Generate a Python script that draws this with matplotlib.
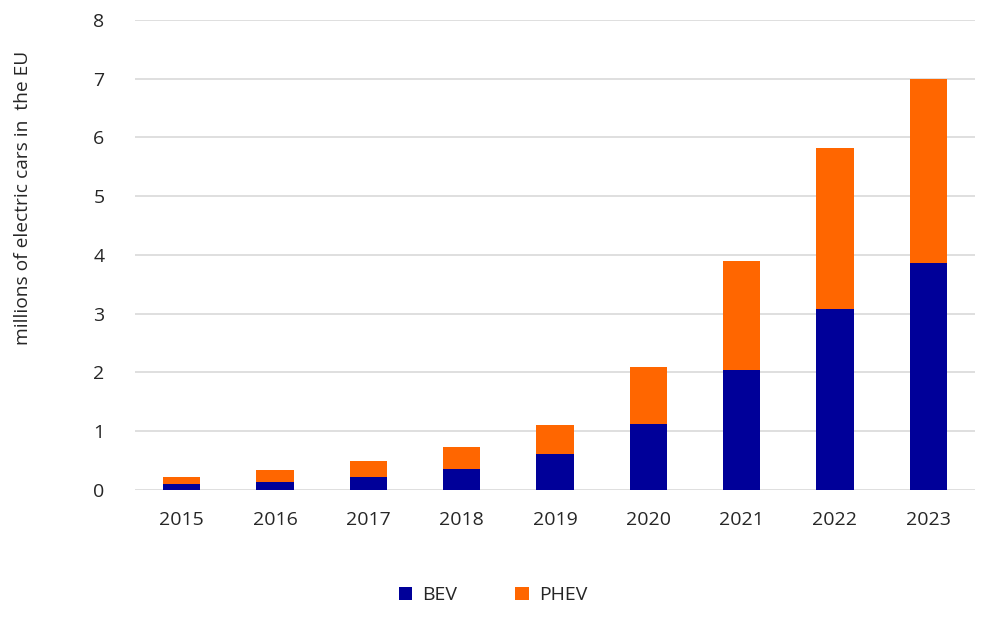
import matplotlib.pyplot as plt
import numpy as np

years = ['2015', '2016', '2017', '2018', '2019', '2020', '2021', '2022', '2023']
bev = [0.10, 0.145, 0.225, 0.365, 0.62, 1.12, 2.04, 3.08, 3.86]
total = [0.23, 0.335, 0.49, 0.73, 1.11, 2.10, 3.89, 5.82, 7.0]
phev = [t - b for t, b in zip(total, bev)]

plt.rcParams['font.family'] = ['Open Sans', 'DejaVu Sans']

fig = plt.figure(figsize=(10, 6.18), dpi=100)
ax = fig.add_axes([0.135, 0.207, 0.84, 0.761])

x = np.arange(len(years))
# stacked bars, BEV at the bottom
ax.bar(x, bev, width=0.4, color='#000099', label='BEV', zorder=3)
ax.bar(x, phev, width=0.4, bottom=bev, color='#FF6600', label='PHEV', zorder=3)

ax.set_xlim(-0.5, len(years) - 0.5)
ax.set_ylim(0, 8)
ax.set_yticks(range(0, 9))
ax.set_xticks(x)
ax.set_xticklabels(years)
ax.yaxis.grid(True, color='#d9d9d9', linewidth=1.2, zorder=0)
ax.set_axisbelow(True)
for s in ax.spines.values():
    s.set_visible(False)
ax.tick_params(axis='both', length=0, labelsize=14, colors='#262626')
ax.tick_params(axis='y', pad=22)
ax.tick_params(axis='x', pad=15)

fig.text(0.023, 0.68, 'millions of electric cars in  the EU', rotation=90,
         ha='center', va='center', fontsize=13.8, color='#262626')

fig.legend(loc='center', bbox_to_anchor=(0.493, 0.037), ncol=2, frameon=False,
           fontsize=14, handlelength=0.7, handleheight=0.7, columnspacing=3.0,
           handletextpad=0.5, labelcolor='#262626')

fig.savefig('out.png', dpi=100)
